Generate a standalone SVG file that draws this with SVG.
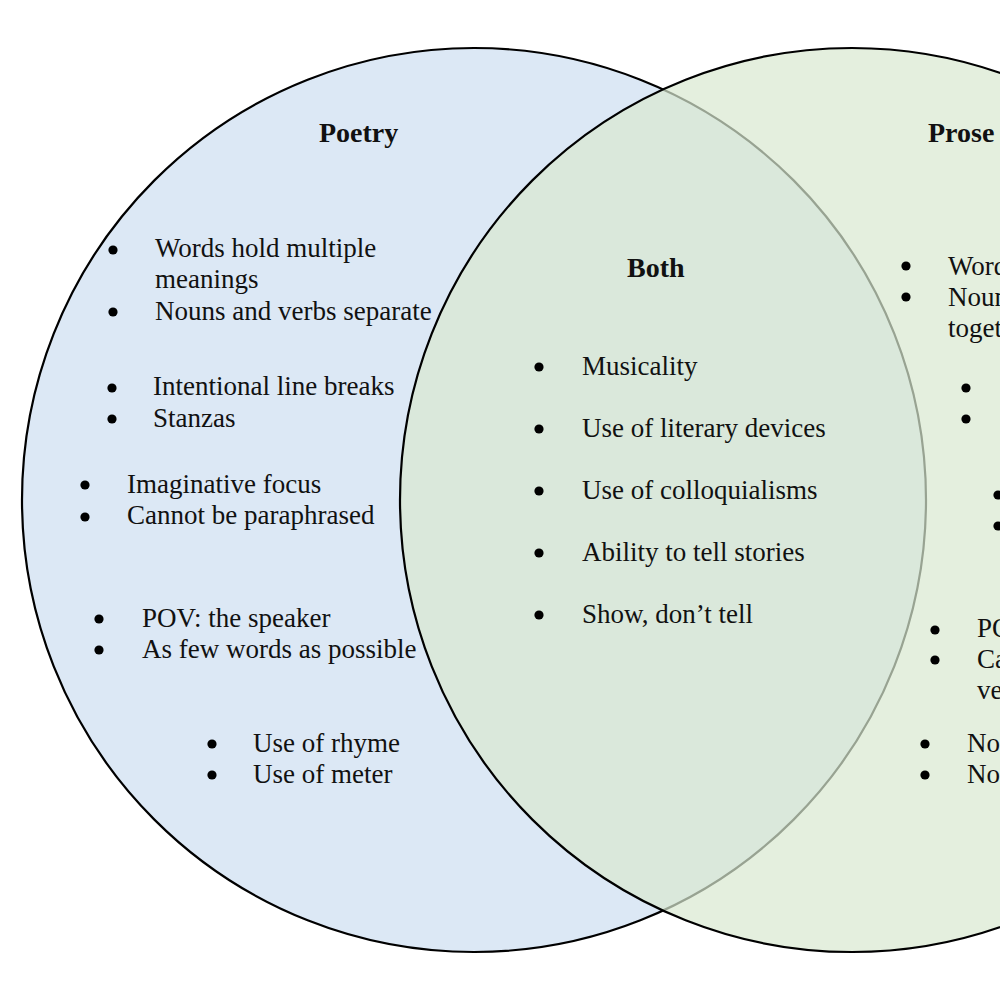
<svg xmlns="http://www.w3.org/2000/svg" width="1000" height="1000" viewBox="0 0 1000 1000">
  <style>
    .t { font-family: "Liberation Serif", "Times New Roman", serif; font-size: 27px; fill: #111; }
    .h { font-family: "Liberation Serif", "Times New Roman", serif; font-size: 28px; font-weight: bold; fill: #111; }
    .b { fill: #000; }
  </style>
  <rect x="0" y="0" width="1000" height="1000" fill="#ffffff"/>
  <g id="poetry">
    <circle cx="474" cy="500" r="452" fill="#dce8f5" stroke="#000" stroke-width="2.2"/>
  </g>
  <g id="prose">
    <circle cx="852" cy="500" r="452" fill="#d8e8d0" fill-opacity="0.7" stroke="#000" stroke-width="2.2"/>
  </g>
  <g id="poetry-text">
    <text class="h" x="319" y="142">Poetry</text>
    <circle class="b" cx="113" cy="250" r="4.6"/>
    <text class="t" x="155" y="257">Words hold multiple</text>
    <text class="t" x="155" y="288">meanings</text>
    <circle class="b" cx="113" cy="312" r="4.6"/>
    <text class="t" x="155" y="320">Nouns and verbs separate</text>
    <circle class="b" cx="112" cy="388" r="4.6"/>
    <text class="t" x="153" y="395">Intentional line breaks</text>
    <circle class="b" cx="112" cy="419" r="4.6"/>
    <text class="t" x="153" y="427">Stanzas</text>
    <circle class="b" cx="85" cy="485" r="4.6"/>
    <text class="t" x="127" y="493">Imaginative focus</text>
    <circle class="b" cx="85" cy="517" r="4.6"/>
    <text class="t" x="127" y="524">Cannot be paraphrased</text>
    <circle class="b" cx="99" cy="619" r="4.6"/>
    <text class="t" x="142" y="627">POV: the speaker</text>
    <circle class="b" cx="99" cy="650" r="4.6"/>
    <text class="t" x="142" y="658">As few words as possible</text>
    <circle class="b" cx="212" cy="744" r="4.6"/>
    <text class="t" x="253" y="752">Use of rhyme</text>
    <circle class="b" cx="212" cy="775" r="4.6"/>
    <text class="t" x="253" y="783">Use of meter</text>
  </g>
  <g id="both-text">
    <text class="h" x="627" y="277">Both</text>
    <circle class="b" cx="539" cy="367" r="4.6"/>
    <text class="t" x="582" y="375">Musicality</text>
    <circle class="b" cx="539" cy="429" r="4.6"/>
    <text class="t" x="582" y="437">Use of literary devices</text>
    <circle class="b" cx="539" cy="491" r="4.6"/>
    <text class="t" x="582" y="499">Use of colloquialisms</text>
    <circle class="b" cx="539" cy="553" r="4.6"/>
    <text class="t" x="582" y="561">Ability to tell stories</text>
    <circle class="b" cx="539" cy="615" r="4.6"/>
    <text class="t" x="582" y="623">Show, don’t tell</text>
  </g>
  <g id="prose-text">
    <text class="h" x="928" y="142">Prose</text>
    <circle class="b" cx="906" cy="266" r="4.6"/>
    <text class="t" x="948" y="275">Word</text>
    <circle class="b" cx="906" cy="297" r="4.6"/>
    <text class="t" x="948" y="306">Noun</text>
    <text class="t" x="948" y="337">toget</text>
    <circle class="b" cx="966" cy="388" r="4.6"/>
    <circle class="b" cx="966" cy="419" r="4.6"/>
    <circle class="b" cx="998" cy="495" r="4.6"/>
    <circle class="b" cx="998" cy="526" r="4.6"/>
    <circle class="b" cx="935" cy="630" r="4.6"/>
    <text class="t" x="977" y="637">PO</text>
    <circle class="b" cx="935" cy="660" r="4.6"/>
    <text class="t" x="977" y="668">Ca</text>
    <text class="t" x="977" y="699">ve</text>
    <circle class="b" cx="925" cy="744" r="4.6"/>
    <text class="t" x="967" y="752">No</text>
    <circle class="b" cx="925" cy="775" r="4.6"/>
    <text class="t" x="967" y="783">No</text>
  </g>
</svg>
